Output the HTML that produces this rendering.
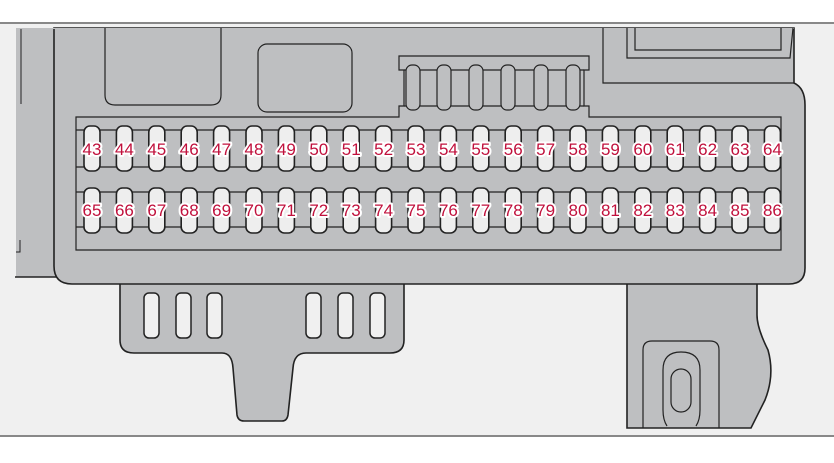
<!DOCTYPE html><html><head><style>body{margin:0;background:#fff}svg{display:block}</style></head><body>
<svg width="834" height="463" viewBox="0 0 834 463" xmlns="http://www.w3.org/2000/svg">
<rect x="0" y="0" width="834" height="463" fill="#fff"/>
<rect x="0" y="24" width="834" height="411" fill="#f0f0f0"/>
<line x1="0" y1="23" x2="834" y2="23" stroke="#888" stroke-width="2"/>
<line x1="0" y1="436" x2="834" y2="436" stroke="#888" stroke-width="2"/>
<g stroke="#222" stroke-width="1.6" fill="#bebfc1">
<path d="M16 28 H60 V277 H16 Z" stroke="none"/>
<line x1="15" y1="277" x2="58" y2="277"/>
<line x1="21" y1="28" x2="21" y2="104" stroke-width="1"/>
<path d="M16 252 H20 V240" fill="none" stroke-width="1"/>
<path d="M120 280 V340 Q120 353 134 353 H222 Q232 353 233 368 L237 415 Q238 421 244 421 H282 Q287 421 288 415 L293 368 Q294 353 306 353 H390 Q404 353 404 340 V280 Z"/>
<path d="M627 280 V428 H751 L765 400 Q775 375 768 350 Q757 328 757 315 V280 Z"/>
<path d="M54 28 H794 V83 Q805 88 805 105 V268 Q805 284 789 284 H72 Q54 284 54 266 Z"/>
</g>
<rect x="16" y="28" width="778" height="1" fill="#bebfc1"/>
<g stroke="#222" stroke-width="1.2" fill="none">
<path d="M105 28 V95 Q105 105 115 105 H211 Q221 105 221 95 V28"/>
<rect x="258" y="44" width="94" height="68" rx="9"/>
<path d="M603 28 V83 H794"/>
<path d="M627 28 V58 H790 L793 28"/>
<path d="M635 28 V50 H781 V28"/>
<path d="M380 117 H399 V106 H404 V70 H399 V56 H589 V70 H584 V106 H589 V117 H781 V250 H76 V117 H380" fill="#bebfc1"/>
<line x1="404" y1="70" x2="584" y2="70"/>
<line x1="404" y1="106" x2="584" y2="106"/>
<g fill="#bebfc1">
<rect x="406" y="65" width="14" height="45" rx="6"/><rect x="437" y="65" width="14" height="45" rx="6"/><rect x="469" y="65" width="14" height="45" rx="6"/><rect x="501" y="65" width="14" height="45" rx="6"/><rect x="534" y="65" width="14" height="45" rx="6"/><rect x="566" y="65" width="14" height="45" rx="6"/>
</g>
<path d="M76 130 H781 M76 167 H781 M76 192 H781 M76 227 H781" />
<g fill="#f0f0f0" stroke-width="1.5">
<rect x="144" y="293" width="15" height="45" rx="5"/><rect x="176" y="293" width="15" height="45" rx="5"/><rect x="207" y="293" width="15" height="45" rx="5"/>
<rect x="306" y="293" width="15" height="45" rx="5"/><rect x="338" y="293" width="15" height="45" rx="5"/><rect x="370" y="293" width="15" height="45" rx="5"/>
</g>
<path d="M643 428 V350 Q643 341 652 341 H710 Q719 341 719 350 V428"/>
<path d="M667 426 Q663 420 663 410 V370 Q663 352 681 352 Q700 352 700 370 V410 Q700 420 696 426"/>
<rect x="671" y="369" width="20" height="43" rx="10"/>
</g>
<g id="fuses" fill="#eeeeee" stroke="#222" stroke-width="1.6"></g>
<g id="labels" font-family="Liberation Sans, sans-serif" font-size="17" fill="#c0103c" stroke="#fff" stroke-width="4" stroke-linejoin="round" paint-order="stroke" text-anchor="middle"></g>
<script>
var f=document.getElementById('fuses'),l=document.getElementById('labels'),ns='http://www.w3.org/2000/svg';
for(var r=0;r<2;r++)for(var i=0;i<22;i++){var x=84+i*32.4;var y=r?188:126;
var e=document.createElementNS(ns,'rect');e.setAttribute('x',x);e.setAttribute('y',y);e.setAttribute('width',16);e.setAttribute('height',45);e.setAttribute('rx',6);f.appendChild(e);
var t=document.createElementNS(ns,'text');t.setAttribute('x',x+8);t.setAttribute('y',r?216:155);t.textContent=43+r*22+i;l.appendChild(t);}
</script>
</svg>
</body></html>
